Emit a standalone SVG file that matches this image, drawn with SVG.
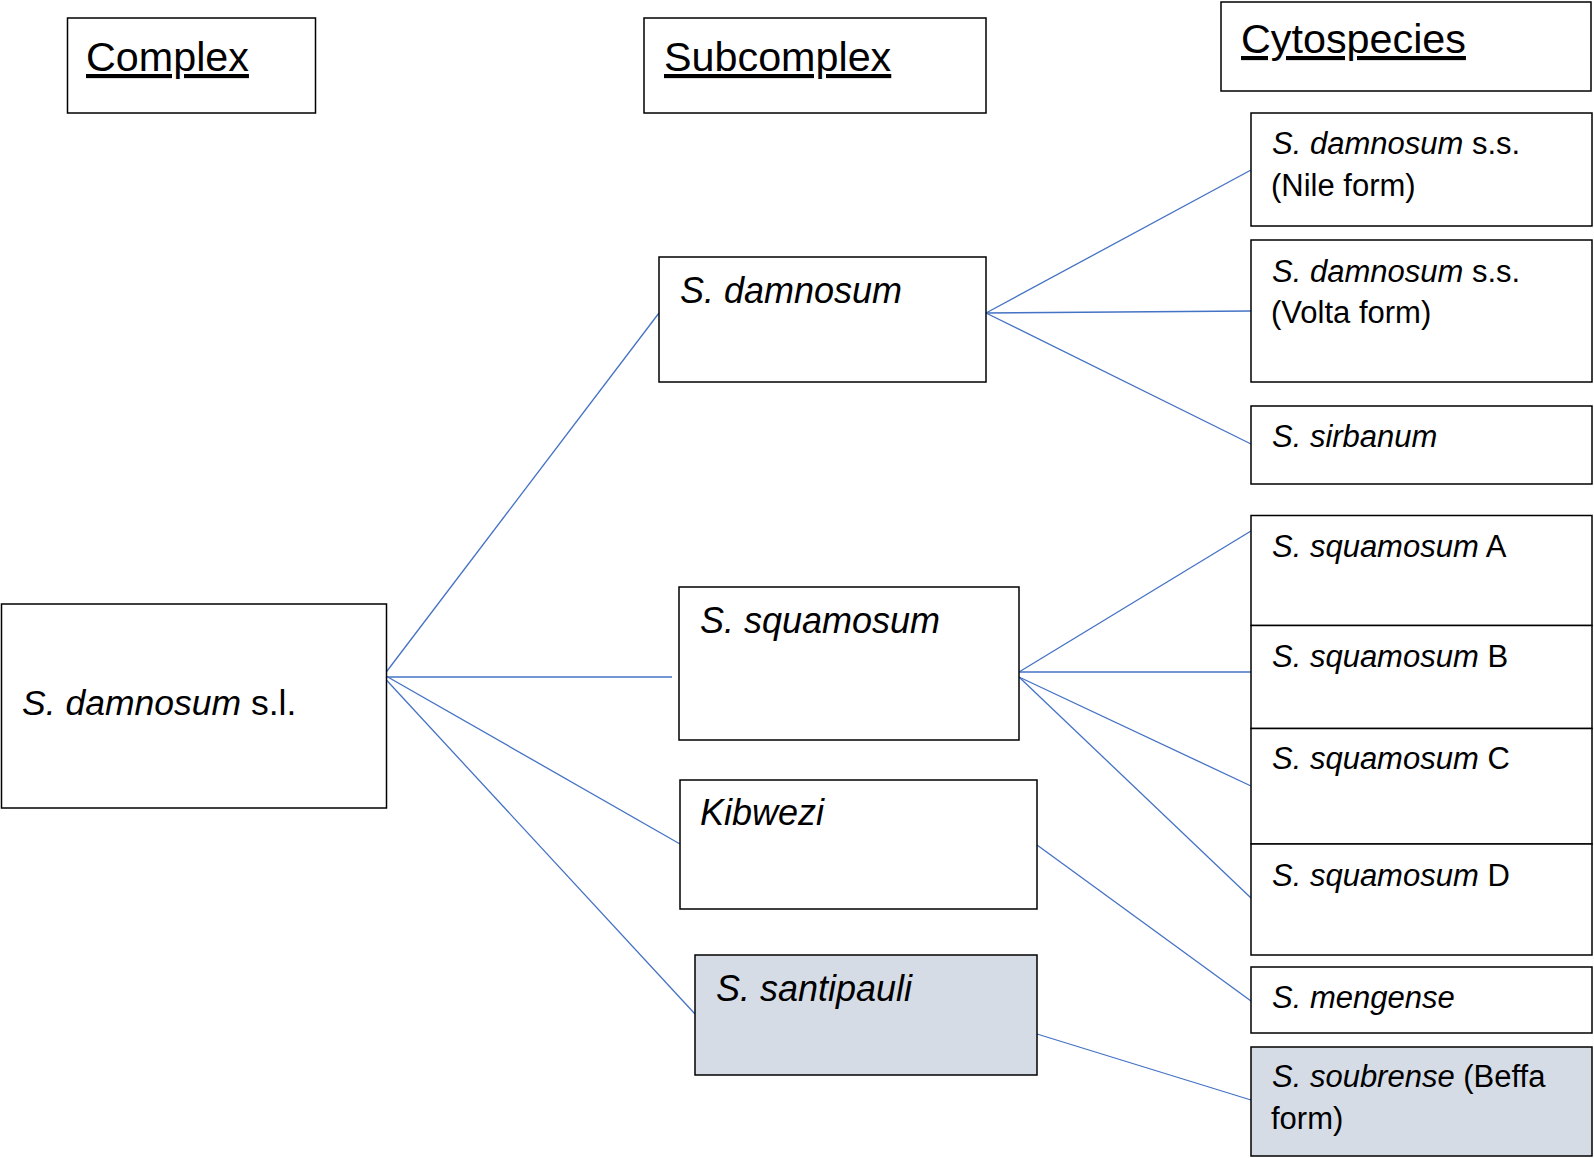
<svg xmlns="http://www.w3.org/2000/svg" width="1594" height="1158" viewBox="0 0 1594 1158">
<style>
.box{fill:#ffffff;stroke:#000000;stroke-width:1.5}
.grey{fill:#d6dce5}
.hd{font-family:"Liberation Sans",Arial,sans-serif;font-size:41.3px;fill:#000;text-decoration:underline}
.sub{font-family:"Liberation Sans",Arial,sans-serif;font-size:36px;fill:#000}
.sl{font-family:"Liberation Sans",Arial,sans-serif;font-size:35.5px;fill:#000}
.cy{font-family:"Liberation Sans",Arial,sans-serif;font-size:31px;fill:#000}
.it{font-style:italic}
.conn line{stroke:#4472c4;stroke-width:1.3;fill:none}
</style>
<rect width="1594" height="1158" fill="#ffffff"/>
<g id="connectors" class="conn">
<line x1="384" y1="675" x2="659" y2="313"/>
<line x1="379" y1="677" x2="672" y2="677"/>
<line x1="379" y1="672" x2="680" y2="844"/>
<line x1="379" y1="672" x2="695" y2="1014"/>
<line x1="986" y1="313" x2="1251" y2="170"/>
<line x1="986" y1="313" x2="1251" y2="311"/>
<line x1="986" y1="313" x2="1251" y2="444"/>
<line x1="1019" y1="672" x2="1251" y2="531"/>
<line x1="1019" y1="672" x2="1251" y2="672"/>
<line x1="1019" y1="677" x2="1251" y2="786"/>
<line x1="1019" y1="677" x2="1251" y2="898"/>
<line x1="1037" y1="845" x2="1251" y2="1001"/>
<line x1="1037" y1="1034" x2="1251" y2="1100"/>
</g>
<g id="hdr-complex"><rect class="box" x="67.5" y="18" width="248" height="95"/><text class="hd" x="86" y="71">Complex</text></g>
<g id="hdr-subcomplex"><rect class="box" x="644" y="18" width="342" height="95"/><text class="hd" x="664" y="71">Subcomplex</text></g>
<g id="hdr-cytospecies"><rect class="box" x="1221" y="2" width="370" height="89"/><text class="hd" x="1241" y="53">Cytospecies</text></g>
<g id="n-sl"><rect class="box" x="1.5" y="604" width="385" height="204"/><text class="sl" x="22" y="715"><tspan class="it">S. damnosum</tspan> s.l.</text></g>
<g id="n-damnosum"><rect class="box" x="659" y="257" width="327" height="125"/><text class="sub it" x="680" y="303">S. damnosum</text></g>
<g id="n-squamosum"><rect class="box" x="679" y="587" width="340" height="153"/><text class="sub it" x="700" y="633">S. squamosum</text></g>
<g id="n-kibwezi"><rect class="box" x="680" y="780" width="357" height="129"/><text class="sub it" x="700" y="825">Kibwezi</text></g>
<g id="n-santipauli"><rect class="box grey" x="695" y="955" width="342" height="120"/><text class="sub it" x="716" y="1001">S. santipauli</text></g>
<g id="c-nile"><rect class="box" x="1251" y="113" width="341" height="113"/><text class="cy" x="1272" y="154"><tspan class="it">S. damnosum</tspan> s.s.</text><text class="cy" x="1271" y="196">(Nile form)</text></g>
<g id="c-volta"><rect class="box" x="1251" y="240" width="341" height="142"/><text class="cy" x="1272" y="282"><tspan class="it">S. damnosum</tspan> s.s.</text><text class="cy" x="1271" y="323">(Volta form)</text></g>
<g id="c-sirbanum"><rect class="box" x="1251" y="406" width="341" height="78"/><text class="cy it" x="1272" y="447">S. sirbanum</text></g>
<g id="c-sqA"><rect class="box" x="1251" y="515.5" width="341" height="110"/><text class="cy" x="1272" y="557"><tspan class="it">S. squamosum</tspan> A</text></g>
<g id="c-sqB"><rect class="box" x="1251" y="625.5" width="341" height="103"/><text class="cy" x="1272" y="667"><tspan class="it">S. squamosum</tspan> B</text></g>
<g id="c-sqC"><rect class="box" x="1251" y="728.5" width="341" height="115.5"/><text class="cy" x="1272" y="769"><tspan class="it">S. squamosum</tspan> C</text></g>
<g id="c-sqD"><rect class="box" x="1251" y="844" width="341" height="111"/><text class="cy" x="1272" y="886"><tspan class="it">S. squamosum</tspan> D</text></g>
<g id="c-mengense"><rect class="box" x="1251" y="967" width="341" height="66"/><text class="cy it" x="1272" y="1008">S. mengense</text></g>
<g id="c-soubrense"><rect class="box grey" x="1251" y="1047" width="341" height="109"/><text class="cy" x="1272" y="1087"><tspan class="it">S. soubrense</tspan> (Beffa</text><text class="cy" x="1271" y="1129">form)</text></g>
</svg>
